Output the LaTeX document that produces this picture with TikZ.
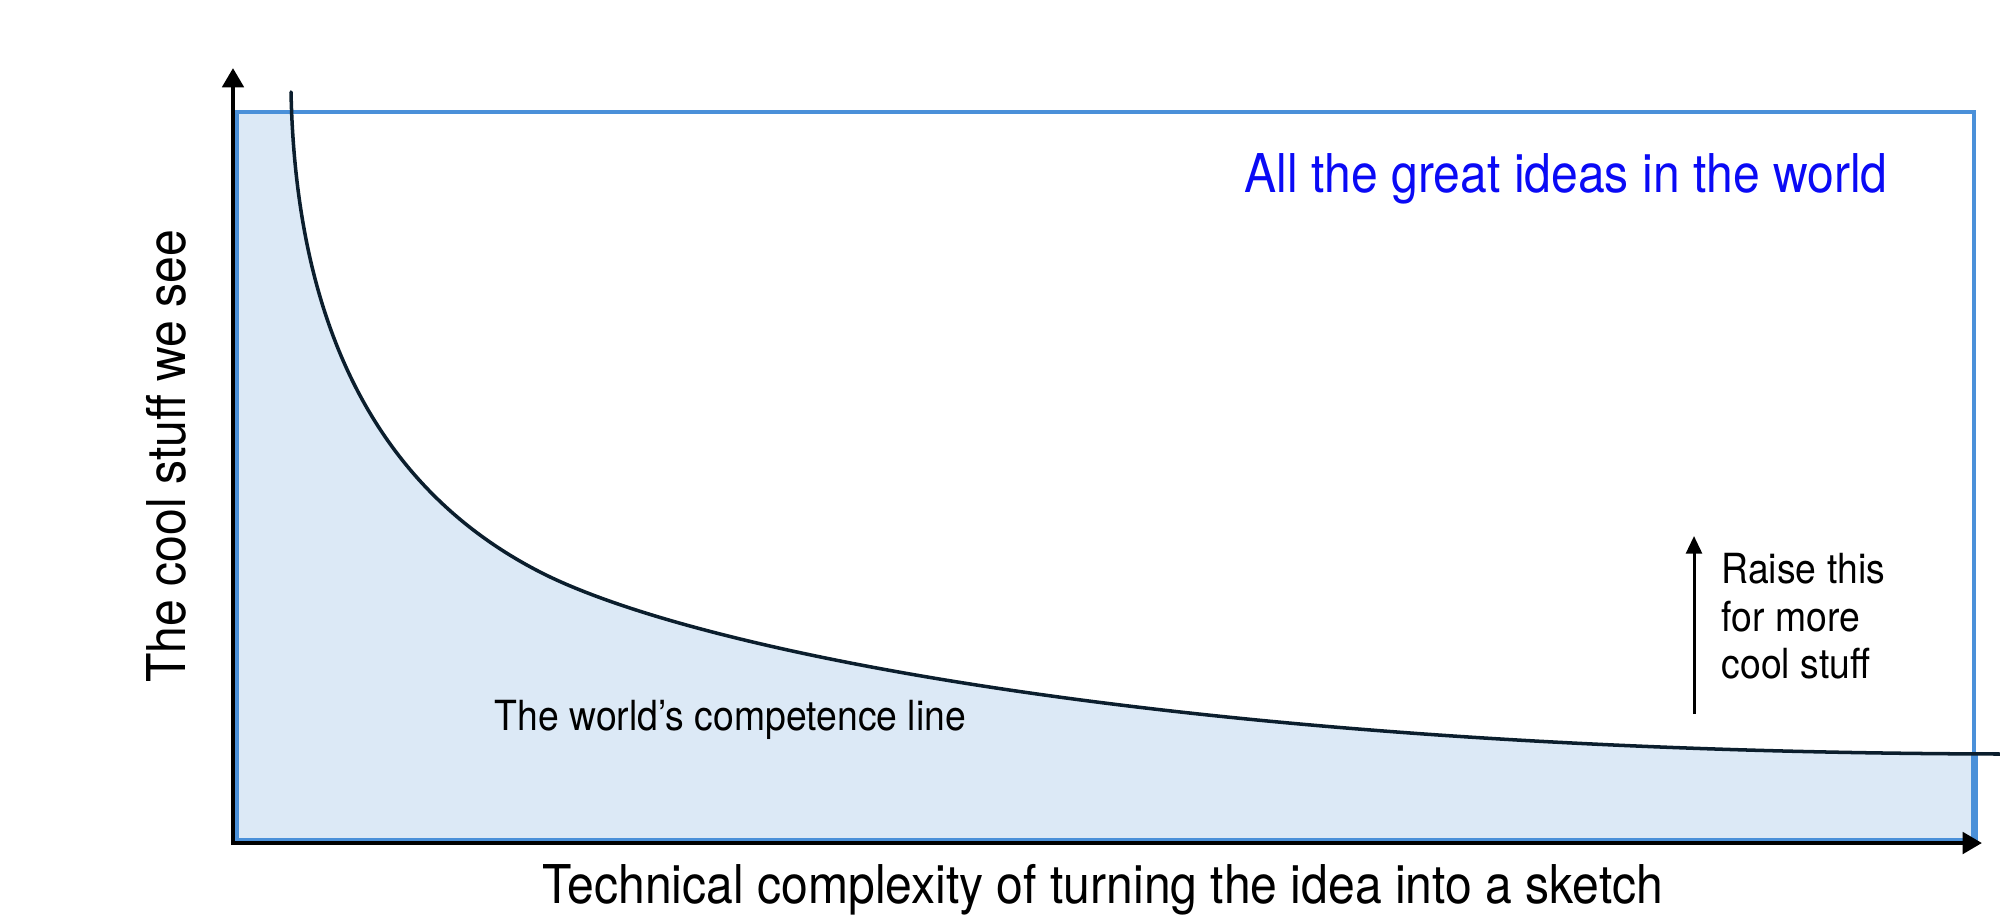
\documentclass[tikz,border=0pt]{standalone}
\usepackage{fontspec}
\setmainfont{TeX Gyre Heros}[FakeStretch=0.9]
\usetikzlibrary{arrows.meta}
\definecolor{rectblue}{HTML}{4A90D9}
\definecolor{areafill}{HTML}{DCE9F6}
\definecolor{curvecol}{HTML}{0B1E2D}
\definecolor{titleblue}{HTML}{0A0AF5}
\tikzset{
  axisline/.style={line width=1.3pt, black, -{Triangle[width=6pt,length=5.5pt]}},
  rectline/.style={line width=1.2pt, rectblue},
  compline/.style={line width=1pt, curvecol, line cap=round},
  bigtext/.style={font=\fontsize{15.2pt}{18pt}\selectfont, inner sep=0pt},
  smalltext/.style={font=\fontsize{11.8pt}{13.4pt}\selectfont, inner sep=0pt},
  raisearrow/.style={line width=0.85pt, black, -{Triangle[width=4.5pt,length=5pt]}}
}
\begin{document}
\begin{tikzpicture}[x=0.01cm,y=-0.01cm]
\useasboundingbox (0,0) rectangle (2000,921);
% corner coordinates
\coordinate (RTL) at (237,112);
\coordinate (RBR) at (1974,840);
\coordinate (Ytip) at (233,68);
\coordinate (Xtip) at (1982,843);
\coordinate (Ostart) at (233,845);
\coordinate (Xstart) at (231,843);
\coordinate (Cstart) at (291,92);
\coordinate (Cmid) at (540,572);
\coordinate (Cend) at (2000,754);
% filled area under the competence line
\begin{scope}
\clip (237,112) rectangle (1974,840);
\fill[areafill] (237,92) -- (Cstart) .. controls (296,330) and (380,490) .. (Cmid)
  .. controls (700,654) and (1200,752) .. (Cend) -- (2000,840) -- (237,840) -- cycle;
\end{scope}
% rectangle of all ideas
\draw[rectline] (RTL) rectangle (RBR);
\draw[rectblue, line width=2pt] (1974,753) -- (1974,842);
% competence line
\draw[compline] (Cstart) .. controls (296,330) and (380,490) .. (Cmid)
  .. controls (700,654) and (1200,752) .. (Cend);
% axes
\draw[axisline] (Ostart) -- (Ytip);
\draw[axisline] (Xstart) -- (Xtip);
% labels
\node[bigtext, titleblue, anchor=base west] (title) at (1244,192) {All the great ideas in the world};
\node[bigtext, anchor=base] (xlabel) at (1103,903) {Technical complexity of turning the idea into a sketch};
\node[bigtext, anchor=base, rotate=90] (ylabel) at (185,456) {The cool stuff we see};
\node[smalltext, anchor=base west] (comp) at (494,730) {The world’s competence line};
\node[smalltext, anchor=north west, align=left] (raise) at (1721,553) {Raise this\\for more\\cool stuff};
\coordinate (arrowstart) at (1694,714);
\coordinate (arrowtip) at (1694,536);
\draw[raisearrow] (arrowstart) -- (arrowtip);
\end{tikzpicture}
\end{document}
